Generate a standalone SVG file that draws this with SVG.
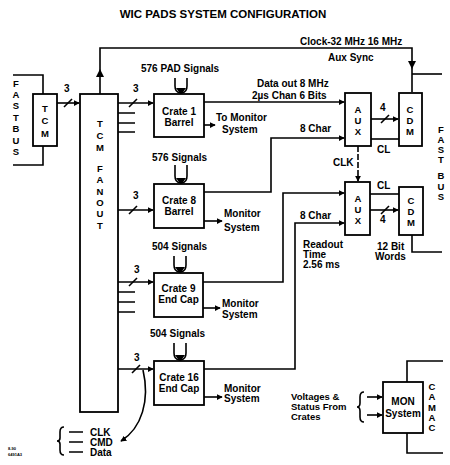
<svg xmlns="http://www.w3.org/2000/svg" width="450" height="465" viewBox="0 0 450 465">
<style>
.ln{fill:none;stroke:#000;stroke-width:1.6}
.bx{fill:#fff;stroke:#000;stroke-width:1.8}
.t{font-family:"Liberation Sans",Arial,sans-serif;font-weight:bold;fill:#000}
.s{font-size:10px}
.v{font-size:9.5px;text-anchor:middle}
.m{text-anchor:middle}
</style>
<defs>
<marker id="ah" viewBox="0 0 8 8" refX="7" refY="4" markerWidth="6" markerHeight="6" markerUnits="userSpaceOnUse" orient="auto">
<path d="M0,0 L8,4 L0,8 Z" fill="#000"/>
</marker>
</defs>
<rect width="450" height="465" fill="#fff"/>
<text class="t m" x="223" y="18" font-size="11.5">WIC PADS SYSTEM CONFIGURATION</text>

<g id="connectors">
<path class="ln" d="M13,75 H43 V94 M13,165 H43 V146"/>
<path class="ln" d="M57,103 H79" marker-end="url(#ah)"/>
<path class="ln" d="M64,107 L72,99"/>
<text class="t s" x="64" y="92">3</text>
<path class="ln" d="M100,94 V48 H412 V92"/>
<path d="M96,77 L100,69 L104,77 Z" fill="#000"/>
<path d="M408,61 L412,69 L416,61 Z" fill="#000"/>
<path class="ln" d="M412,74 H442"/>
<path class="ln" d="M118,103 H153" marker-end="url(#ah)"/>
<path class="ln" d="M129,107 L137,99"/>
<text class="t s" x="133" y="92">3</text>
<path class="ln" d="M118,113 H135 M118,123 H135 M118,132 H135"/>
<path class="ln" d="M118,210 H153" marker-end="url(#ah)"/>
<path class="ln" d="M129,214 L137,206"/>
<text class="t s" x="133" y="199">3</text>
<path class="ln" d="M118,282 H153" marker-end="url(#ah)"/>
<path class="ln" d="M129,286 L137,278"/>
<text class="t s" x="134" y="273">3</text>
<path class="ln" d="M118,292 H135 M118,302 H135 M118,312 H135"/>
<path class="ln" d="M118,369 H153" marker-end="url(#ah)"/>
<path class="ln" d="M132,373 L140,365"/>
<text class="t s" x="134" y="361">3</text>
<path class="ln" d="M143,370 C150,400 142,428 121,441" marker-end="url(#ah)"/>
<path class="ln" d="M175,78 V86 Q175,92 180,93 M187,78 V86 Q187,92 182,93"/>
<path d="M176,88 L181,95 L186,88 Z" fill="#000"/>
<path class="ln" d="M175,165 V176 Q175,182 180,183 M187,165 V176 Q187,182 182,183"/>
<path d="M176,178 L181,185 L186,178 Z" fill="#000"/>
<path class="ln" d="M174,256 V265 Q174,271 179,272 M186,256 V265 Q186,271 181,272"/>
<path d="M175,267 L180,274 L185,267 Z" fill="#000"/>
<path class="ln" d="M174,343 V353 Q174,359 179,360 M186,343 V353 Q186,359 181,360"/>
<path d="M175,355 L180,362 L185,355 Z" fill="#000"/>
<path class="ln" d="M204,125 H215" marker-end="url(#ah)"/>
<path class="ln" d="M204,221 H222" marker-end="url(#ah)"/>
<path class="ln" d="M203,308 H220" marker-end="url(#ah)"/>
<path class="ln" d="M204,397 H222" marker-end="url(#ah)"/>
<path class="ln" d="M204,102 H344" marker-end="url(#ah)"/>
<path class="ln" d="M204,192 H271 V138 H344" marker-end="url(#ah)"/>
<path class="ln" d="M203,282 H283 V193 H344" marker-end="url(#ah)"/>
<path class="ln" d="M204,369 H295 V223 H344" marker-end="url(#ah)"/>
<path class="ln" d="M371,119 H398" marker-end="url(#ah)"/>
<path class="ln" d="M381,123 L389,115"/>
<text class="t s" x="380" y="111">4</text>
<path class="ln" d="M371,139 H399"/>
<text class="t s" x="377" y="153">CL</text>
<path class="ln" d="M358,146 V181" marker-end="url(#ah)" stroke-dasharray="6,2"/>
<text class="t s" x="333" y="166">CLK</text>
<path class="ln" d="M370,194 H399"/>
<text class="t s" x="377" y="189">CL</text>
<path class="ln" d="M370,210 H398" marker-end="url(#ah)"/>
<path class="ln" d="M381,214 L389,206"/>
<text class="t s" x="380" y="223">4</text>
<path class="ln" d="M412,235 V252 H442"/>
<path class="ln" d="M407,382 V361 H443 M407,433 V453 H443"/>
<path class="ln" d="M367,397 H382" marker-end="url(#ah)"/>
<path class="ln" d="M367,415 H382" marker-end="url(#ah)"/>
<path class="ln" d="M364,392 Q360,392 360,397 V403 Q360,407 357,407 Q360,407 360,411 V417 Q360,422 364,422"/>
<path class="ln" d="M64,427 Q60,427 60,432 V438 Q60,441 57,441 Q60,441 60,444 V450 Q60,455 64,455"/>
<path class="ln" d="M69,432 H83 M69,442 H83 M69,452 H83"/>
</g>

<g id="fastbus-left">
<text class="t v" x="16" y="87">F</text>
<text class="t v" x="16" y="98">A</text>
<text class="t v" x="16" y="109">S</text>
<text class="t v" x="16" y="121">T</text>
<text class="t v" x="16" y="132">B</text>
<text class="t v" x="16" y="144">U</text>
<text class="t v" x="16" y="155">S</text>
</g>
<g id="tcm">
<rect class="bx" x="33" y="94" width="24" height="52"/>
<text class="t v" x="45" y="112">T</text>
<text class="t v" x="45" y="124">C</text>
<text class="t v" x="45" y="137">M</text>
</g>
<g id="tcm-fanout">
<rect class="bx" x="80" y="94" width="38" height="318"/>
<text class="t v" x="100" y="127">T</text>
<text class="t v" x="100" y="139">C</text>
<text class="t v" x="100" y="151">M</text>
<text class="t v" x="100" y="172">F</text>
<text class="t v" x="100" y="183">A</text>
<text class="t v" x="100" y="195">N</text>
<text class="t v" x="100" y="206">O</text>
<text class="t v" x="100" y="217">U</text>
<text class="t v" x="100" y="229">T</text>
</g>
<g id="crate1">
<text class="t s" x="141" y="72">576 PAD Signals</text>
<rect class="bx" x="154" y="94" width="50" height="43"/>
<text class="t s m" x="179" y="114.5">Crate 1</text>
<text class="t s m" x="179" y="126">Barrel</text>
<text class="t s" x="216" y="120.5">To Monitor</text>
<text class="t s" x="222" y="132.5">System</text>
</g>
<g id="crate8">
<text class="t s" x="152" y="161">576 Signals</text>
<rect class="bx" x="154" y="184" width="50" height="44"/>
<text class="t s m" x="179" y="204">Crate 8</text>
<text class="t s m" x="179" y="215">Barrel</text>
<text class="t s" x="224" y="216.5">Monitor</text>
<text class="t s" x="224" y="230.5">System</text>
</g>
<g id="crate9">
<text class="t s" x="152" y="250">504 Signals</text>
<rect class="bx" x="154" y="273" width="49" height="44"/>
<text class="t s m" x="178.5" y="291.5">Crate 9</text>
<text class="t s m" x="178.5" y="302.5">End Cap</text>
<text class="t s" x="222" y="306.5">Monitor</text>
<text class="t s" x="222" y="317.5">System</text>
</g>
<g id="crate16">
<text class="t s" x="150" y="337">504 Signals</text>
<rect class="bx" x="154" y="361" width="50" height="44"/>
<text class="t s m" x="179" y="380.5">Crate 16</text>
<text class="t s m" x="179" y="391.5">End Cap</text>
<text class="t s" x="224" y="391.5">Monitor</text>
<text class="t s" x="224" y="402">System</text>
</g>
<g id="labels">
<text class="t s" x="300" y="45">Clock-32 MHz 16 MHz</text>
<text class="t s" x="328" y="61">Aux Sync</text>
<text class="t s" x="257" y="87">Data out 8 MHz</text>
<text class="t s" x="252" y="99">2µs Chan  6 Bits</text>
<text class="t s" x="300" y="131.5">8 Char</text>
<text class="t s" x="300" y="218.5">8 Char</text>
<text class="t s" x="303" y="247.5">Readout</text>
<text class="t s" x="303" y="257.5">Time</text>
<text class="t s" x="303" y="267.5">2.56 ms</text>
<text class="t s" x="377" y="249.5">12 Bit</text>
<text class="t s" x="375" y="259.5">Words</text>
<text class="t" x="291" y="400" font-size="9.5">Voltages &amp;</text>
<text class="t" x="291" y="410" font-size="9.5">Status From</text>
<text class="t" x="291" y="420" font-size="9.5">Crates</text>
<text class="t s" x="90" y="435.5">CLK</text>
<text class="t s" x="90" y="445.5">CMD</text>
<text class="t s" x="90" y="456">Data</text>
<text class="t" x="8" y="450" font-size="4">8-90</text>
<text class="t" x="8" y="456" font-size="4">6491A3</text>
</g>
<g id="aux1">
<rect class="bx" x="345" y="93" width="26" height="53"/>
<text class="t v" x="358" y="113">A</text>
<text class="t v" x="358" y="124">U</text>
<text class="t v" x="358" y="135">X</text>
</g>
<g id="cdm1">
<rect class="bx" x="399" y="93" width="23" height="53"/>
<text class="t v" x="410" y="113">C</text>
<text class="t v" x="410" y="124">D</text>
<text class="t v" x="410" y="135">M</text>
</g>
<g id="aux2">
<rect class="bx" x="345" y="182" width="25" height="53"/>
<text class="t v" x="358" y="202">A</text>
<text class="t v" x="358" y="213">U</text>
<text class="t v" x="358" y="224">X</text>
</g>
<g id="cdm2">
<rect class="bx" x="399" y="187" width="24" height="48"/>
<text class="t v" x="411" y="204">C</text>
<text class="t v" x="411" y="215">D</text>
<text class="t v" x="411" y="226">M</text>
</g>
<g id="fastbus-right">
<text class="t v" x="441" y="133">F</text>
<text class="t v" x="441" y="143">A</text>
<text class="t v" x="441" y="153">S</text>
<text class="t v" x="441" y="163">T</text>
<text class="t v" x="441" y="179">B</text>
<text class="t v" x="441" y="190">U</text>
<text class="t v" x="441" y="200">S</text>
</g>
<g id="mon-system">
<rect class="bx" x="383" y="382" width="40" height="51"/>
<text class="t s m" x="403" y="405">MON</text>
<text class="t s m" x="403" y="417">System</text>
</g>
<g id="camac">
<text class="t v" x="432" y="390">C</text>
<text class="t v" x="432" y="400">A</text>
<text class="t v" x="432" y="411">M</text>
<text class="t v" x="432" y="421">A</text>
<text class="t v" x="432" y="431">C</text>
</g>
</svg>
